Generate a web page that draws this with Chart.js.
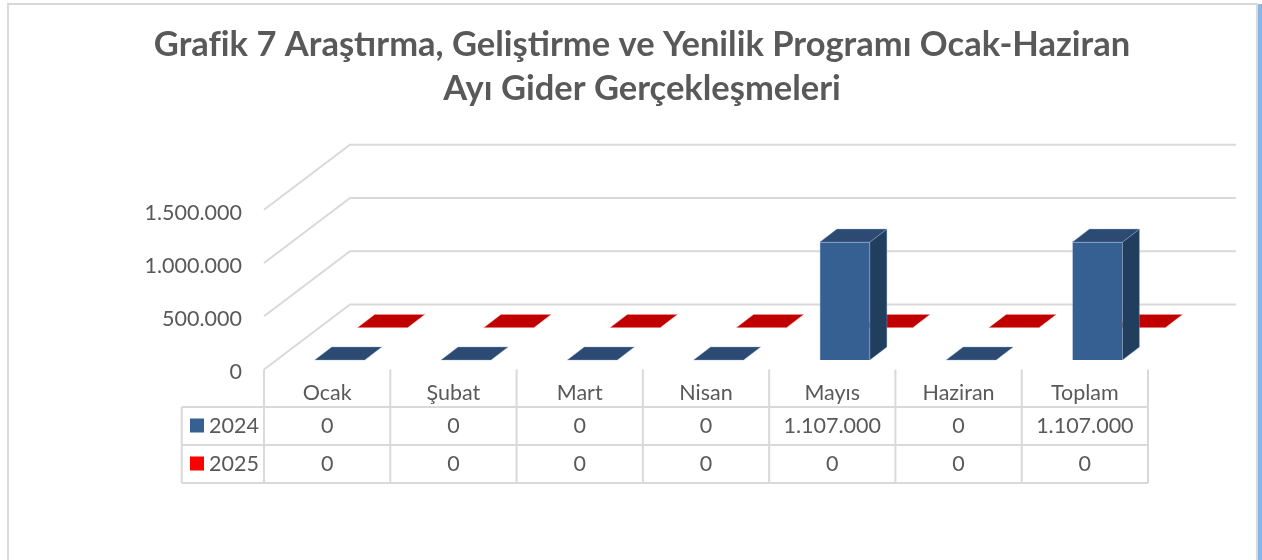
<!DOCTYPE html>
<html lang="tr">
<head>
<meta charset="utf-8">
<style>
html,body{margin:0;padding:0;background:#fff;overflow:hidden;width:1262px;height:560px}
.f{position:absolute}
canvas{position:absolute;left:0;top:0}
</style>
<script src="https://cdn.jsdelivr.net/npm/chart.js@4"></script>
</head>
<body>
<div class="f" style="left:7px;top:3px;width:2px;height:557px;background:#d9d9d9"></div>
<div class="f" style="left:7px;top:3px;width:1251px;height:2px;background:#d9d9d9"></div>
<div class="f" style="left:1256px;top:3px;width:2px;height:557px;background:#d9d9d9"></div>
<div class="f" style="left:1258px;top:4px;width:4px;height:556px;background:#8db4e2"></div>
<canvas id="c" width="1262" height="560"></canvas>
<script>
const titleLines = ["Grafik 7 Araştırma, Geliştirme ve Yenilik Programı Ocak-Haziran", "Ayı Gider Gerçekleşmeleri"];
const categories = ["Ocak", "Şubat", "Mart", "Nisan", "Mayıs", "Haziran", "Toplam"];
const series2024 = [0, 0, 0, 0, 1107000, 0, 1107000];
const series2025 = [0, 0, 0, 0, 0, 0, 0];
const seriesNames = ["2024", "2025"];
const yMax = 1500000;
const yStep = 500000;

const FONT = "Lato, Carlito, Calibri, sans-serif";
const TEXT = "#595959", GRID = "#d9d9d9";
const fmt = v => String(v).replace(/\B(?=(\d{3})+$)/g, ".");

const wall = {dx: 86, dy: -65, rightDx: 88};
const barDepth = {dx: 17, dy: -13};
const styles = [
  {shift: {dx: 12.6, dy: -9.5}, front: "#366092", side: "#223e5e", top: "#2c4a72", key: "#376092", edge: "rgba(140,170,210,.55)"},
  {shift: {dx: 55.6, dy: -42}, front: "#ff0000", side: "#a00000", top: "#c00000", key: "#ff0000", edge: "rgba(255,150,150,.5)"}
];

function poly(ctx, pts, fill, edge) {
  ctx.beginPath();
  pts.forEach((p, i) => i ? ctx.lineTo(p[0], p[1]) : ctx.moveTo(p[0], p[1]));
  ctx.closePath();
  ctx.fillStyle = fill; ctx.fill();
  if (edge) { ctx.strokeStyle = edge; ctx.lineWidth = 0.7; ctx.stroke(); }
}

const scene3d = {
  id: "scene3d",
  beforeDatasetsDraw(chart) {
    const {ctx, scales: {x, y}} = chart;
    const L = x.left, R = x.right;
    ctx.save();
    ctx.strokeStyle = GRID; ctx.lineWidth = 2;
    y.ticks.forEach(t => {
      const py = y.getPixelForValue(t.value);
      ctx.beginPath();
      ctx.moveTo(L, py);
      ctx.lineTo(L + wall.dx, py + wall.dy);
      ctx.lineTo(R + wall.rightDx, py + wall.dy);
      ctx.stroke();
    });
    ctx.restore();
  },
  beforeDatasetDraw(chart, args) {
    const s = styles[args.index];
    chart.ctx.save();
    chart.ctx.translate(s.shift.dx, s.shift.dy);
  },
  afterDatasetDraw(chart, args) {
    const {ctx} = chart, s = styles[args.index];
    args.meta.data.forEach(el => {
      const l = el.x - el.width / 2, r = el.x + el.width / 2, t = el.y, b = el.base;
      const d = barDepth;
      if (b - t > 0.5) {
        poly(ctx, [[r, t], [r, b], [r + d.dx, b + d.dy], [r + d.dx, t + d.dy]], s.side, s.edge);
      }
      poly(ctx, [[l, t], [r, t], [r + d.dx, t + d.dy], [l + d.dx, t + d.dy]], s.top, s.edge);
    });
    ctx.restore();
  },
  afterDraw(chart) {
    const {ctx, scales: {x, y}} = chart;
    const base = y.getPixelForValue(0);
    const rowH = 38, headerH = 37.5, tableLeft = 181.7;
    const rows = [series2024, series2025];
    const rowTop = i => base + headerH + i * rowH;
    const cw = (x.right - x.left) / categories.length;
    ctx.save();
    ctx.strokeStyle = GRID; ctx.lineWidth = 2;
    for (let i = 0; i <= categories.length; i++) {
      const px = x.left + i * cw;
      ctx.beginPath(); ctx.moveTo(px, base); ctx.lineTo(px, rowTop(2)); ctx.stroke();
    }
    ctx.beginPath(); ctx.moveTo(tableLeft, rowTop(0)); ctx.lineTo(tableLeft, rowTop(2)); ctx.stroke();
    for (let i = 0; i <= 2; i++) {
      ctx.beginPath(); ctx.moveTo(tableLeft, rowTop(i)); ctx.lineTo(x.right, rowTop(i)); ctx.stroke();
    }
    ctx.font = "21.5px " + FONT;
    ctx.fillStyle = TEXT;
    ctx.textBaseline = "middle";
    rows.forEach((vals, r) => {
      const cy = rowTop(r) + rowH / 2;
      ctx.fillStyle = styles[r].key;
      ctx.fillRect(190, cy - 7.5, 14, 14);
      ctx.fillStyle = TEXT;
      ctx.textAlign = "left";
      ctx.fillText(seriesNames[r], 209, cy);
      ctx.textAlign = "center";
      vals.forEach((v, i) => ctx.fillText(fmt(v), x.getPixelForTick(i), cy));
    });
    ctx.restore();
  }
};

new Chart(document.getElementById("c"), {
  type: "bar",
  data: {
    labels: categories,
    datasets: [
      {label: seriesNames[0], data: series2024, backgroundColor: styles[0].front, borderColor: styles[0].edge, borderWidth: 0.7, grouped: false, barThickness: 50},
      {label: seriesNames[1], data: series2025, backgroundColor: styles[1].front, borderWidth: 0, grouped: false, barThickness: 50}
    ]
  },
  plugins: [scene3d],
  options: {
    responsive: false,
    animation: false,
    layout: {padding: {left: 136, right: 114, top: 0, bottom: 0}},
    plugins: {
      legend: {display: false},
      tooltip: {enabled: false},
      title: {
        display: true,
        text: titleLines,
        color: TEXT,
        font: {family: FONT, size: 34.5, weight: "bold", lineHeight: 1.275},
        padding: {top: 23, bottom: 98.8}
      }
    },
    scales: {
      x: {
        border: {display: false},
        grid: {display: false},
        ticks: {color: TEXT, font: {family: FONT, size: 21.5}, padding: 3, maxRotation: 0, autoSkip: false},
        afterFit(s) { s.height = 190.5; }
      },
      y: {
        min: 0, max: yMax,
        border: {display: false},
        grid: {display: false, drawTicks: false},
        ticks: {color: TEXT, font: {family: FONT, size: 21.5, lineHeight: "6px"}, stepSize: yStep, padding: 22, callback: v => ["", fmt(v)]},
        afterFit(s) { s.width = 128; }
      }
    }
  }
});
</script>
</body>
</html>
